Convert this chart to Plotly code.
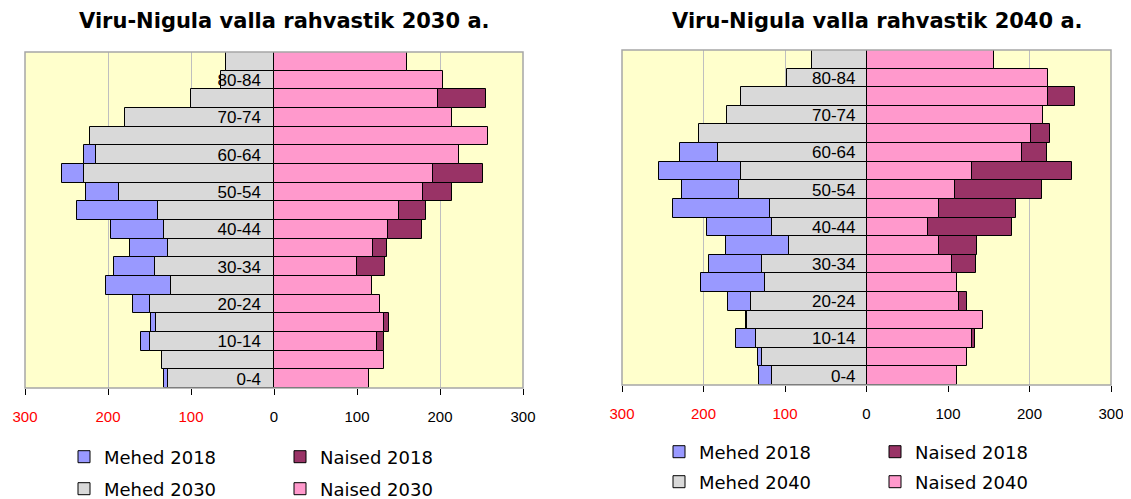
import plotly.graph_objects as go

# ---------------- data ----------------
age_groups = ["0-4", "5-9", "10-14", "15-19", "20-24", "25-29", "30-34", "35-39",
              "40-44", "45-49", "50-54", "55-59", "60-64", "65-69", "70-74",
              "75-79", "80-84", "85+"]
shown_age_labels = ["0-4", "10-14", "20-24", "30-34", "40-44", "50-54",
                    "60-64", "70-74", "80-84"]

mehed_2018 = [132, 133, 160, 148, 170, 203, 193, 173, 196, 237, 226, 255, 229, 200, 165, 95, 62, 55]
naised_2018 = [105, 115, 133, 139, 123, 105, 134, 136, 178, 183, 215, 252, 221, 225, 205, 256, 195, 150]

mehed_2030 = [128, 135, 149, 142, 149, 124, 143, 128, 133, 140, 187, 229, 214, 222, 180, 100, 64, 58]
naised_2030 = [114, 132, 124, 133, 128, 118, 100, 119, 137, 151, 179, 192, 223, 258, 214, 197, 204, 160]

mehed_2040 = [116, 128, 135, 147, 142, 124, 128, 95, 116, 118, 157, 154, 182, 206, 171, 154, 97, 67]
naised_2040 = [111, 123, 130, 143, 114, 111, 105, 89, 76, 89, 109, 130, 191, 202, 216, 223, 223, 156]

x_tick_vals = [-300, -200, -100, 0, 100, 200, 300]
x_tick_labels = ["300", "200", "100", "0", "100", "200", "300"]

titles = ["Viru-Nigula valla rahvastik 2030 a.", "Viru-Nigula valla rahvastik 2040 a."]

# ---------------- styles ----------------
C_M18 = "#9999FF"
C_N18 = "#993366"
C_M = "#D9D9D9"
C_N = "#FF99CC"
PAGE_W, PAGE_H = 1131, 499
OFF = 8                      # default page body margin
W, H = PAGE_W - OFF, PAGE_H - OFF

tick_text = [
    (f'<span style="color:#FF0000">{t}</span>' if v < 0 else t)
    for v, t in zip(x_tick_vals, x_tick_labels)
]

fig = go.Figure()


def add_pyramid(xa, ya, m18, n18, m_new, n_new, year, leg_a, leg_b):
    line = dict(color="black", width=1)
    fig.add_trace(go.Bar(y=age_groups, x=[-v for v in m18], orientation="h",
                         name="Mehed 2018", marker=dict(color=C_M18, line=line),
                         xaxis=xa, yaxis=ya, legend=leg_a))
    fig.add_trace(go.Bar(y=age_groups, x=n18, orientation="h",
                         name="Naised 2018", marker=dict(color=C_N18, line=line),
                         xaxis=xa, yaxis=ya, legend=leg_a))
    fig.add_trace(go.Bar(y=age_groups, x=[-v for v in m_new], orientation="h",
                         name=f"Mehed {year}", marker=dict(color=C_M, line=line),
                         xaxis=xa, yaxis=ya, legend=leg_b))
    fig.add_trace(go.Bar(y=age_groups, x=n_new, orientation="h",
                         name=f"Naised {year}", marker=dict(color=C_N, line=line),
                         xaxis=xa, yaxis=ya, legend=leg_b))


add_pyramid("x", "y", mehed_2018, naised_2018, mehed_2030, naised_2030, 2030, "legend", "legend2")
add_pyramid("x2", "y2", mehed_2018, naised_2018, mehed_2040, naised_2040, 2040, "legend3", "legend4")


# page-pixel -> paper fraction helpers
def px(x):
    return (x - OFF) / W


def py(y):
    return (H - (y - OFF)) / H


left_dom_px = (25, 523)
right_dom_px = (622, 1111)
left_y_px = (52, 388)
right_y_px = (50, 385)

xaxis_common = dict(
    range=[-300, 300], tickvals=x_tick_vals, ticktext=tick_text,
    showgrid=True, gridcolor="#BFBFBF", gridwidth=1, zeroline=False,
    ticks="outside", ticklen=6, tickcolor="black", tickwidth=1,
    showline=False, ticklabelstandoff=9, automargin=False,
    tickfont=dict(family="Liberation Sans", size=15, color="black"),
    fixedrange=True,
)
yaxis_common = dict(
    type="category", categoryorder="array", categoryarray=age_groups,
    range=[-0.5, len(age_groups) - 0.5],
    tickvals=shown_age_labels, ticks="", showgrid=False, zeroline=False,
    showline=False, ticklabelstandoff=12, automargin=False,
    tickfont=dict(family="Liberation Sans", size=17, color="black"),
    anchor="free", fixedrange=True,
)

fig.update_layout(
    width=W, height=H,
    margin=dict(l=0, r=0, t=0, b=0, autoexpand=False),
    paper_bgcolor="white",
    plot_bgcolor="#FFFFCC",
    barmode="overlay",
    bargap=0,
    showlegend=True,
    xaxis=dict(domain=[px(left_dom_px[0]), px(left_dom_px[1])], anchor="y", **xaxis_common),
    xaxis2=dict(domain=[px(right_dom_px[0]), px(right_dom_px[1])], anchor="y2", **xaxis_common),
    yaxis=dict(domain=[py(left_y_px[1]), py(left_y_px[0])], position=px(273), **yaxis_common),
    yaxis2=dict(domain=[py(right_y_px[1]), py(right_y_px[0])], position=px(867.5), **yaxis_common),
)

leg_common = dict(orientation="h", xanchor="left", yanchor="middle",
                  entrywidth=171, bgcolor="rgba(0,0,0,0)",
                  font=dict(family="DejaVu Sans", size=18, color="black"),
                  traceorder="normal", itemclick=False, itemdoubleclick=False)
fig.update_layout(
    legend=dict(x=px(64), y=py(457), **leg_common),
    legend2=dict(x=px(64), y=py(489), **leg_common),
    legend3=dict(x=px(659), y=py(452), **leg_common),
    legend4=dict(x=px(659), y=py(482), **leg_common),
)

# plot area frames
for xr, yr in (("x domain", "y domain"), ("x2 domain", "y2 domain")):
    fig.add_shape(type="rect", xref=xr, yref=yr, x0=0, x1=1, y0=0, y1=1,
                  line=dict(color="#A6A6A6", width=1.5), layer="above")

# titles
for cx, t in ((284, titles[0]), (877, titles[1])):
    fig.add_annotation(text=f"<b>{t}</b>", x=px(cx), y=py(21),
                       xref="paper", yref="paper", showarrow=False,
                       xanchor="center", yanchor="middle",
                       font=dict(family="DejaVu Sans", size=21, color="black"))

fig.write_html("out.html")
